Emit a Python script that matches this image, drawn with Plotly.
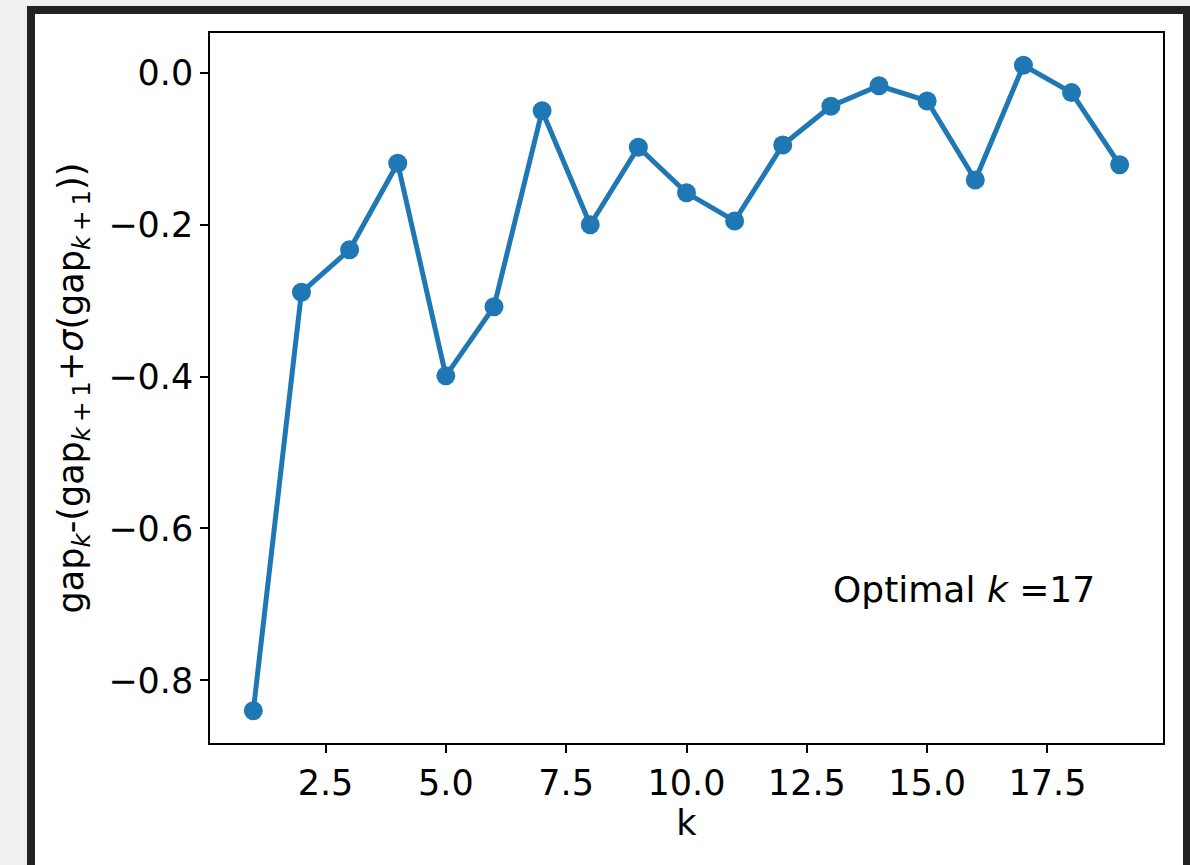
import plotly.graph_objects as go

k_values = list(range(1, 20))
gap_diff = [-0.840, -0.289, -0.233, -0.119, -0.399, -0.308, -0.050, -0.200,
            -0.098, -0.158, -0.195, -0.095, -0.044, -0.017, -0.037, -0.141,
            0.010, -0.026, -0.121]
x_tick_vals = [2.5, 5.0, 7.5, 10.0, 12.5, 15.0, 17.5]
x_tick_text = ["2.5", "5.0", "7.5", "10.0", "12.5", "15.0", "17.5"]
y_tick_vals = [0.0, -0.2, -0.4, -0.6, -0.8]
y_tick_text = ["0.0", "\u22120.2", "\u22120.4", "\u22120.6", "\u22120.8"]
optimal_k = 17

W, H = 1190, 865
L, R, T, B = 210, 27, 33, 122
pw, ph = W - L - R, H - T - B

def px(xp):
    return (xp - L) / pw

def py(yp):
    return (H - B - yp) / ph

xmin, xmax = min(k_values), max(k_values)
ymin, ymax = min(gap_diff), max(gap_diff)
xpad = 0.05 * (xmax - xmin)
ypad = 0.05 * (ymax - ymin)

FONT = "DejaVu Sans"
FS = 35

fig = go.Figure()
fig.add_trace(go.Scatter(
    x=k_values, y=gap_diff, mode="lines+markers",
    line=dict(color="#1f77b4", width=5),
    marker=dict(color="#1f77b4", size=19),
    showlegend=False,
))

shapes = [
    dict(type="rect", xref="paper", yref="paper", layer="below",
         x0=px(0), x1=px(W), y0=py(H), y1=py(0),
         fillcolor="#f0f0f0", line=dict(width=0)),
    dict(type="rect", xref="paper", yref="paper", layer="below",
         x0=px(27), x1=px(W), y0=py(H), y1=py(6),
         fillcolor="#222222", line=dict(width=0)),
    dict(type="rect", xref="paper", yref="paper", layer="below",
         x0=px(35), x1=px(1183), y0=py(H), y1=py(14),
         fillcolor="#ffffff", line=dict(width=0)),
]

sub = "<sub><i>k</i>\u2009+\u20091</sub>"
ytitle = f"gap<sub><i>k</i></sub>-(gap{sub}+<i>\u03c3</i>(gap{sub}))"

fig.update_layout(
    width=W, height=H,
    margin=dict(l=L, r=R, t=T, b=B, pad=0),
    paper_bgcolor="#ffffff", plot_bgcolor="#ffffff",
    font=dict(family=FONT, size=FS, color="black"),
    shapes=shapes,
    xaxis=dict(
        range=[xmin - xpad, xmax + xpad],
        tickvals=x_tick_vals, ticktext=x_tick_text,
        showgrid=False, zeroline=False,
        showline=True, linecolor="black", linewidth=1.5, mirror=True,
        ticks="outside", ticklen=8, tickwidth=1.5, tickcolor="black",
        tickfont=dict(family=FONT, size=FS),
        title=dict(text="k", font=dict(family=FONT, size=FS), standoff=8),
    ),
    yaxis=dict(
        range=[ymin - ypad, ymax + ypad],
        tickvals=y_tick_vals, ticktext=y_tick_text,
        showgrid=False, zeroline=False,
        showline=True, linecolor="black", linewidth=1.5, mirror=True,
        ticks="outside", ticklen=8, tickwidth=1.5, tickcolor="black",
        tickfont=dict(family=FONT, size=FS),
        title=dict(text=ytitle, font=dict(family=FONT, size=FS), standoff=14),
    ),
    annotations=[dict(
        x=13, y=-0.68, xref="x", yref="y",
        text=f"Optimal <i>k</i> ={optimal_k}",
        showarrow=False, xanchor="left", yanchor="middle",
        font=dict(family=FONT, size=36, color="black"),
    )],
)

fig.write_html(
    "out.html",
    config={"displayModeBar": False},
    post_script="document.body.style.margin='0';document.body.style.overflow='hidden';",
)
